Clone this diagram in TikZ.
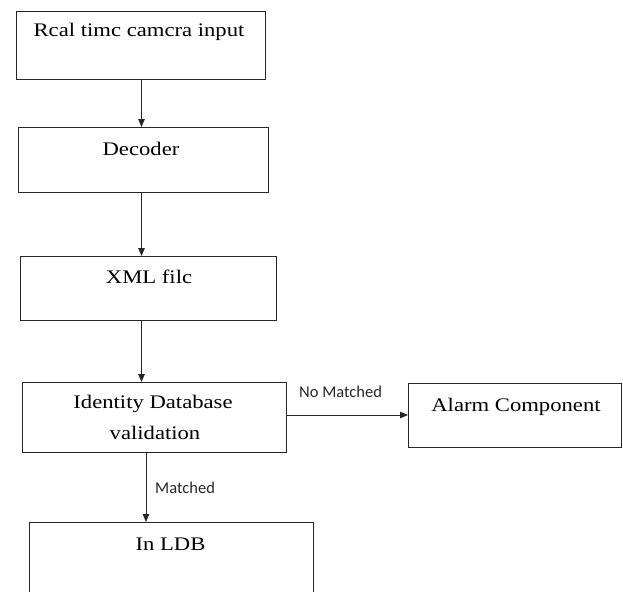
\documentclass[tikz,border=0pt]{standalone}
\usepackage{fontspec}
\newfontfamily\boxfont[FakeStretch=1.18]{Liberation Serif}
\newfontfamily\lblfont{Carlito}
\usetikzlibrary{arrows.meta}
\begin{document}
\begin{tikzpicture}[x=1pt,y=-1pt,
  box/.style={draw=black!85,line width=1pt,anchor=north west,inner sep=0pt},
  btext/.style={anchor=base,inner sep=0pt,font=\boxfont\fontsize{19.2}{22}\selectfont},
  ltext/.style={anchor=base west,inner sep=0pt,font=\lblfont\fontsize{16.5}{19}\selectfont,text=black!85},
  arr/.style={draw=black!85,line width=1pt,-{Triangle[length=8pt,width=6.5pt]}}]
\useasboundingbox (0,0) rectangle (623,591);
\clip (0,0) rectangle (623,591);
\node[box,minimum width=249pt,minimum height=68pt] (b1) at (16,11) {};
\node[box,minimum width=250pt,minimum height=65pt] (b2) at (18,127) {};
\node[box,minimum width=256pt,minimum height=64pt] (b3) at (20,256) {};
\node[box,minimum width=264pt,minimum height=70pt] (b4) at (22,382) {};
\node[box,minimum width=213pt,minimum height=64pt] (b5) at (408,383) {};
\node[box,minimum width=284pt,minimum height=90pt] (b6) at (29,522) {};
\node[btext] (t1) at (139,37) {Rcal timc camcra input};
\node[btext] (t2) at (141,155) {Decoder};
\node[btext] (t3) at (149,283) {XML filc};
\node[btext] (t4a) at (153,408) {Identity Database};
\node[btext] (t4b) at (155,439) {validation};
\node[btext] (t5) at (516,411) {Alarm Component};
\node[btext] (t6) at (170.5,550) {In LDB};
\node[ltext] (l1) at (299,397) {No Matched};
\node[ltext] (l2) at (155,493) {Matched};
\draw[arr] (b1.south -| 141.5,0) -- (b2.north -| 141.5,0);
\draw[arr] (b2.south -| 141.5,0) -- (b3.north -| 141.5,0);
\draw[arr] (b3.south -| 141.5,0) -- (b4.north -| 141.5,0);
\draw[arr] (b4.east |- 0,415) -- (b5.west |- 0,415);
\draw[arr] (b4.south -| 146,0) -- (b6.north -| 146,0);
\end{tikzpicture}
\end{document}
